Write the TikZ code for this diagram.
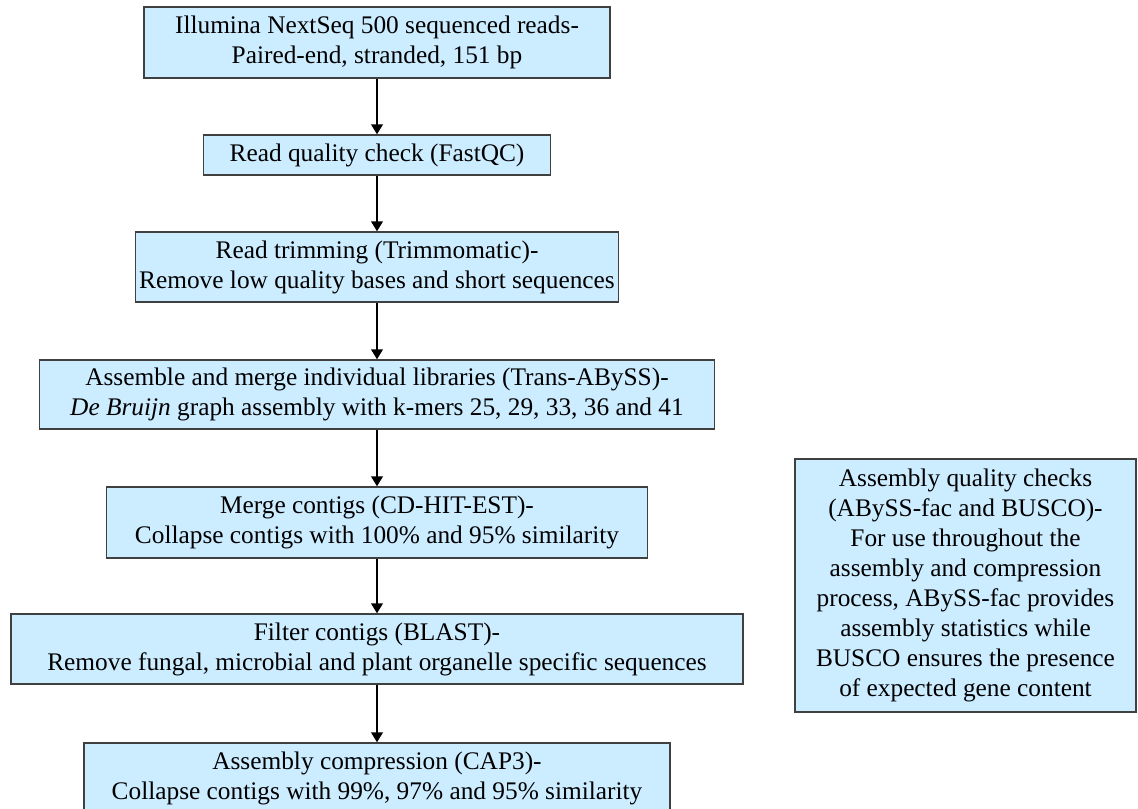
\documentclass[tikz,border=0pt]{standalone}
\usepackage{fontspec}
\setmainfont{Liberation Serif}
\usetikzlibrary{arrows.meta}

\definecolor{boxblue}{RGB}{204,236,255}

\begin{document}
\begin{tikzpicture}[
    x=0.75pt, y=-0.75pt,
    font=\fontsize{19}{22.5}\selectfont,
    stage/.style={draw=black!75, line width=0.9pt, fill=boxblue, align=center,
      inner sep=0pt},
    arrow/.style={-{Triangle[width=8.5pt,length=7.5pt]}, line width=2.2pt}
  ]
    \useasboundingbox (0,0) rectangle (1138,808);

    \node[stage, minimum width=349.5pt, minimum height=53.25pt] (reads) at (377,42.5)
      {Illumina NextSeq 500 sequenced reads-\\Paired-end, stranded, 151 bp};
    \node[stage, minimum width=260.25pt, minimum height=30pt] (qc) at (377,155)
      {Read quality check (FastQC)};
    \node[stage, minimum width=362pt, minimum height=52.5pt] (trim) at (377,267)
      {Read trimming (Trimmomatic)-\\Remove low quality bases and short sequences};
    \node[stage, minimum width=506.25pt, minimum height=51.75pt] (asm) at (377,394.5)
      {Assemble and merge individual libraries (Trans-ABySS)-\\
       \textit{De Bruijn} graph assembly with k-mers 25, 29, 33, 36 and 41};
    \node[stage, minimum width=405.75pt, minimum height=53.25pt] (merge) at (377,522.5)
      {Merge contigs (CD-HIT-EST)-\\Collapse contigs with 100\% and 95\% similarity};
    \node[stage, minimum width=549pt, minimum height=52.5pt] (filter) at (377,649)
      {Filter contigs (BLAST)-\\
       Remove fungal, microbial and plant organelle specific sequences};
    \node[stage, minimum width=439.5pt, minimum height=52.5pt] (cap) at (377,778)
      {Assembly compression (CAP3)-\\Collapse contigs with 99\%, 97\% and 95\% similarity};

    % side note, not linked to the chain
    \node[stage, minimum width=255.75pt, minimum height=189.75pt] (checks) at (965.5,585.5)
      {Assembly quality checks\\(ABySS-fac and BUSCO)-\\For use throughout the\\
       assembly and compression\\process, ABySS-fac provides\\assembly statistics while\\
       BUSCO ensures the presence\\of expected gene content};

    \foreach \a/\b in {reads/qc, qc/trim, trim/asm, asm/merge, merge/filter, filter/cap} {
      \draw[arrow] (\a) -- (\b);
    }
  \end{tikzpicture}
\end{document}
